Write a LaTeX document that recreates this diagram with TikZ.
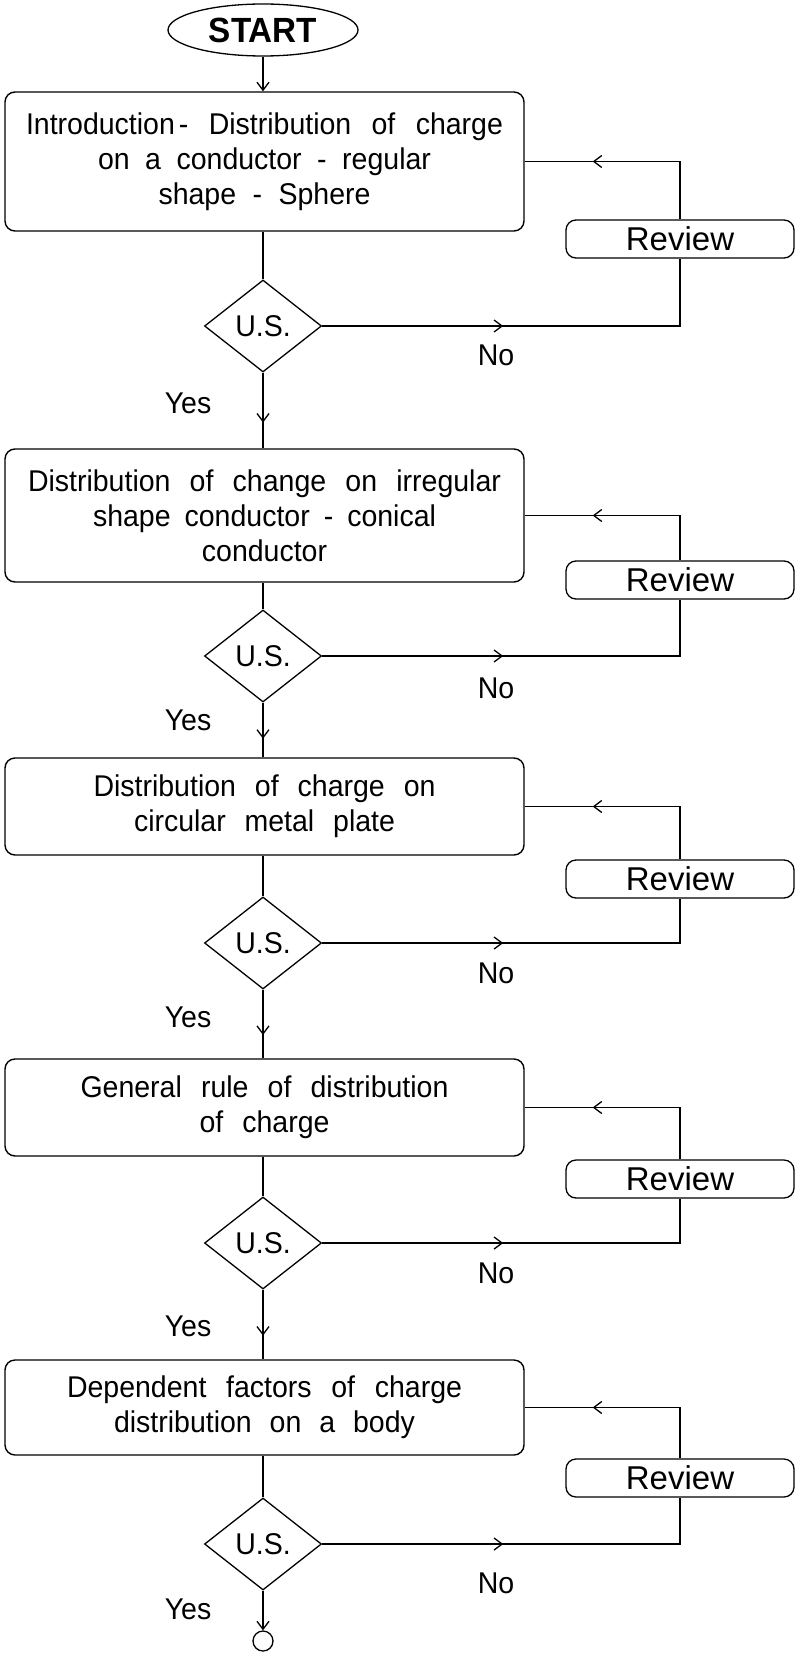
\documentclass[tikz,border=0pt]{standalone}
\usepackage{fontspec}
\setmainfont{Liberation Sans}
\newfontfamily\nfont{Liberation Sans}[FakeStretch=0.95]
\usetikzlibrary{shapes.geometric,arrows.meta,decorations.markings}
\newcommand{\Lw}[2]{\makebox[#1pt][s]{#2}}
\begin{document}
\begin{tikzpicture}[x=1pt,y=-1pt,
  every node/.style={font=\nfont\fontsize{30}{35}\selectfont},
  box/.style={draw, line width=1.4pt, rounded corners=10pt, minimum width=519pt, align=center, inner sep=0pt},
  dec/.style={draw, diamond, line width=1.3pt, minimum width=117pt, minimum height=92pt, inner sep=0pt, font=\nfont\fontsize{30}{36}\selectfont},
  rev/.style={draw, rounded corners=10pt, line width=1.3pt, minimum width=228pt, minimum height=38pt, inner sep=0pt, fill=white, font=\normalfont\fontsize{33}{38}\selectfont},
  lbl/.style={inner sep=0pt},
  conn/.style={line width=1.3pt},
  >={Straight Barb[length=8pt,width=12pt]},
  arrat/.style={postaction={decorate,decoration={markings,mark=at position #1 with {\arrow{>}}}}},
]
\useasboundingbox (0,0) rectangle (798,1656);

\node[ellipse, draw, line width=1.3pt, minimum width=190pt, minimum height=52pt, inner sep=0pt, font=\nfont\bfseries\fontsize{35}{40}\selectfont] (start) at (263,30) {START};

\node[box, minimum height=139pt] (b1) at (264.5,161.5) {\Lw{477}{Introduction\kern4pt- Distribution of charge}\\\Lw{333}{on a conductor - regular}\\\Lw{212}{shape - Sphere}};
\node[box, minimum height=133pt] (b2) at (264.5,515.5) {\Lw{473}{Distribution of change on irregular}\\\Lw{343}{shape conductor - conical}\\conductor};
\node[box, minimum height=97pt] (b3) at (264.5,806.5) {\Lw{342}{Distribution of charge on}\\\Lw{261}{circular metal plate}};
\node[box, minimum height=97pt] (b4) at (264.5,1107.5) {\Lw{368}{General rule of distribution}\\\Lw{130}{of charge}};
\node[box, minimum height=95pt] (b5) at (264.5,1407.5) {\Lw{395}{Dependent factors of charge}\\\Lw{301}{distribution on a body}};

\node[dec] (d1) at (263,326) {U.S.};
\node[dec] (d2) at (263,656) {U.S.};
\node[dec] (d3) at (263,943) {U.S.};
\node[dec] (d4) at (263,1243) {U.S.};
\node[dec] (d5) at (263,1544) {U.S.};

\node[rev] (r1) at (680,239) {Review};
\node[rev] (r2) at (680,580) {Review};
\node[rev] (r3) at (680,879) {Review};
\node[rev] (r4) at (680,1179) {Review};
\node[rev] (r5) at (680,1478) {Review};

\node[lbl] (n1) at (496,355) {No};
\node[lbl] (n2) at (496,688) {No};
\node[lbl] (n3) at (496,973) {No};
\node[lbl] (n4) at (496,1273) {No};
\node[lbl] (n5) at (496,1583) {No};

\node[lbl] (y1) at (188,403) {Yes};
\node[lbl] (y2) at (188,720) {Yes};
\node[lbl] (y3) at (188,1017) {Yes};
\node[lbl] (y4) at (188,1326) {Yes};
\node[lbl] (y5) at (188,1609) {Yes};

\node[circle, draw, line width=1.3pt, minimum size=20pt, inner sep=0pt] (end) at (263,1641) {};

\draw[conn,->] (start.south) -- (start.south |- b1.north);

\foreach \i/\j in {1/2,2/3,3/4,4/5}{
  \draw[conn] (b\i.south -| d\i.north) -- (d\i.north);
  \draw[conn, arrat=0.66] (d\i.south) -- (d\i.south |- b\j.north);
}
\draw[conn] (b5.south -| d5.north) -- (d5.north);
\draw[conn,->] (d5.south) -- (end.north);

\foreach \i in {1,...,5}{
  \draw[conn, arrat=181pt] (d\i.east) -- (d\i.east -| r\i.south) -- (r\i.south);
  \draw[conn, arrat=-68pt] (r\i.north) -- (r\i.north |- b\i.east) -- (b\i.east);
}
\end{tikzpicture}
\end{document}
